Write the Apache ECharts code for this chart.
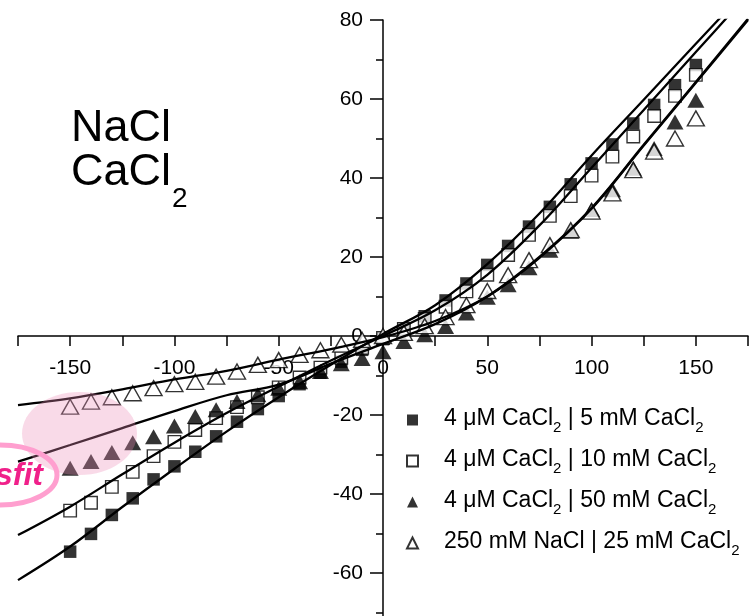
<!DOCTYPE html>
<html><head><meta charset="utf-8">
<script src="https://cdn.jsdelivr.net/npm/echarts@6/dist/echarts.min.js"></script>
<style>html,body{margin:0;padding:0;background:#fff}#c{width:756px;height:616px}</style>
</head><body><div id="c"></div>
<script>
// Membrane voltage (mV) of the measured points
const voltages = [-150,-140,-130,-120,-110,-100,-90,-80,-70,-60,-50,-40,-30,-20,-10,0,10,20,30,40,50,60,70,80,90,100,110,120,130,140,150];
// Measured currents
const sq5   = [-54.6,-50.1,-45.3,-41.1,-36.3,-33.0,-29.3,-25.4,-21.7,-18.5,-15.2,-12.2,-9.3,-6.5,-3.5,-0.8,1.8,5.0,9.0,13.3,18.0,22.8,27.7,32.7,38.4,43.7,48.5,53.8,58.5,63.5,68.6];
const sq10  = [-44.2,-42.2,-38.2,-34.4,-30.4,-26.8,-23.8,-20.8,-18.0,-15.5,-13.0,-10.5,-8.0,-5.5,-3.0,-0.5,1.8,4.3,7.4,11.3,15.5,20.5,25.6,30.4,35.4,40.6,45.4,50.5,55.7,60.8,66.1];
const tri50 = [-33.5,-31.8,-29.5,-27.0,-25.5,-22.8,-20.4,-18.7,-16.6,-14.9,-13.2,-11.6,-9.0,-7.0,-5.7,-4.0,-1.4,0.3,2.4,5.8,9.8,13.0,17.3,21.7,26.5,32.0,37.0,42.5,47.5,54.2,59.7];
const triNa = [-17.9,-16.6,-15.5,-14.5,-13.2,-12.2,-11.6,-10.3,-9.0,-7.3,-6.1,-4.8,-3.6,-2.2,-1.0,0.0,0.8,2.5,4.8,7.8,11.4,15.4,19.2,23.0,26.8,31.5,36.1,42.0,46.7,50.0,55.1];
// Fitted curves
const fitX   = [-175,-150,-125,-100,-75,-50,-25,0,25,50,75,100,125,150,175];
const fit5   = [-61.8,-53.3,-43.3,-33.6,-24.2,-15.5,-7.3,0.5,7.8,18.2,31.0,45.7,59.8,74.0,88.0];
const fit10  = [-50.4,-43.2,-35.0,-27.0,-19.5,-12.8,-6.2,0.0,6.5,15.5,28.0,42.6,57.2,71.9,86.5];
const fit50  = [-31.8,-27.6,-23.3,-19.0,-15.0,-12.3,-7.0,-2.0,3.0,10.0,20.0,32.4,48.4,64.3,80.3];
const fitNa  = [-17.5,-15.8,-13.5,-11.0,-8.8,-6.0,-3.3,-0.3,3.8,10.0,19.8,32.2,48.2,64.1,80.0];
const seriesNames = ['4 μM CaCl2 | 5 mM CaCl2','4 μM CaCl2 | 10 mM CaCl2','4 μM CaCl2 | 50 mM CaCl2','250 mM NaCl | 25 mM CaCl2'];
const xLabelStep = 50;
const yLabelStep = 20;

const FONT = '"Liberation Sans", Arial, sans-serif';
const pair = (xs, ys) => xs.map((x, i) => [x, ys[i]]);

function richify(str) {
  return '{sp|}' + str.split('CaCl2').map(p => p ? '{t|' + p + '}' : '').join('{t|CaCl}{s|2}');
}

const open = {color: '#fff', borderColor: '#000', borderWidth: 1.4};
const filled = {color: '#000'};

const scatterDefs = [
  {name: seriesNames[0], data: sq5, symbol: 'rect', size: 12.5, style: filled},
  {name: seriesNames[1], data: sq10, symbol: 'rect', size: 12.5, style: open},
  {name: seriesNames[2], data: tri50, symbol: 'triangle', size: [17, 15], style: filled},
  {name: seriesNames[3], data: triNa, symbol: 'triangle', size: [17, 15], style: open}
];
const fits = [fit5, fit10, fit50, fitNa];

const series = [];
scatterDefs.forEach(d => {
  series.push({
    type: 'scatter', name: d.name, data: pair(voltages, d.data),
    symbol: d.symbol, symbolSize: d.size, itemStyle: d.style, z: 3,
    emphasis: {disabled: true}
  });
});
fits.forEach((f, i) => {
  series.push({
    type: 'line', name: 'fit' + i, data: pair(fitX, f), smooth: 0.35,
    showSymbol: false, lineStyle: {color: '#000', width: 2.3}, z: 4, clip: true,
    emphasis: {disabled: true}, silent: true
  });
});

const chart = echarts.init(document.getElementById('c'), null, {renderer: 'canvas'});
const option = {
  animation: false,
  backgroundColor: '#fff',
  grid: {left: 18, right: 8, top: 20, bottom: -36, containLabel: false, outerBoundsMode: 'none'},
  xAxis: {
    type: 'value', min: -175, max: 175, interval: 25, position: 'bottom', offset: 0,
    axisLine: {onZero: false, lineStyle: {color: '#000', width: 1.5}},
    axisTick: {show: true, length: 10, lineStyle: {color: '#000', width: 1.5}},
    axisLabel: {margin: 22, color: '#000', fontSize: 21, fontFamily: FONT,
      formatter: v => (v % xLabelStep === 0 ? String(v) : '')},
    splitLine: {show: false}
  },
  yAxis: {
    type: 'value', min: -80, max: 80, interval: yLabelStep, position: 'left', offset: 0,
    axisLine: {onZero: false, lineStyle: {color: '#000', width: 1.5}},
    axisTick: {show: true, length: 13, lineStyle: {color: '#000', width: 1.5}},
    minorTick: {show: true, splitNumber: 2, length: 7, lineStyle: {color: '#000', width: 1.5}},
    axisLabel: {margin: 20, color: '#000', fontSize: 21, fontFamily: FONT},
    splitLine: {show: false}
  },
  legend: {
    data: seriesNames, orient: 'vertical', left: 406, top: 407, padding: 0,
    itemWidth: 11, itemHeight: 11, itemGap: 13, selectedMode: false,
    formatter: richify,
    textStyle: {
      fontFamily: FONT, fontSize: 23, color: '#000',
      rich: {
        sp: {width: 21},
        t: {fontSize: 23, fontFamily: FONT, color: '#000', lineHeight: 26, verticalAlign: 'top'},
        s: {fontSize: 15, fontFamily: FONT, color: '#000', lineHeight: 15, padding: [13, 0, 0, 0], verticalAlign: 'top'}
      }
    }
  },
  graphic: [
    {type: 'text', x: 71, y: 128.5, z: 50, style: {text: 'NaCl', font: '45px ' + FONT, fill: '#000', align: 'left', verticalAlign: 'middle'}},
    {type: 'text', x: 71, y: 172.5, z: 50, style: {text: 'CaCl', font: '45px ' + FONT, fill: '#000', align: 'left', verticalAlign: 'middle'}},
    {type: 'text', x: 172, y: 199, z: 50, style: {text: '2', font: '28px ' + FONT, fill: '#000', align: 'left', verticalAlign: 'middle'}},
    {type: 'ellipse', z: 100, shape: {cx: 79.5, cy: 433.5, rx: 57.5, ry: 41.5}, style: {fill: 'rgba(235,140,185,0.32)'}},
    {type: 'ellipse', z: 101, shape: {cx: 0, cy: 475, rx: 57, ry: 30}, style: {fill: 'none', stroke: '#ff9fcf', lineWidth: 5}},
    {type: 'text', x: 43, y: 476, z: 102, style: {text: 'misfit', font: 'italic bold 32px ' + FONT, fill: '#f0208a', align: 'right', verticalAlign: 'middle'}}
  ],
  series: series
};
chart.setOption(option);
// Move both axes so they cross at the data origin
const origin = chart.convertToPixel({gridIndex: 0}, [0, 0]);
const gridRect = chart.getModel().getComponent('grid', 0).coordinateSystem.getRect();
chart.setOption({
  xAxis: {offset: origin[1] - (gridRect.y + gridRect.height)},
  yAxis: {offset: gridRect.x - origin[0]}
});
</script></body></html>
